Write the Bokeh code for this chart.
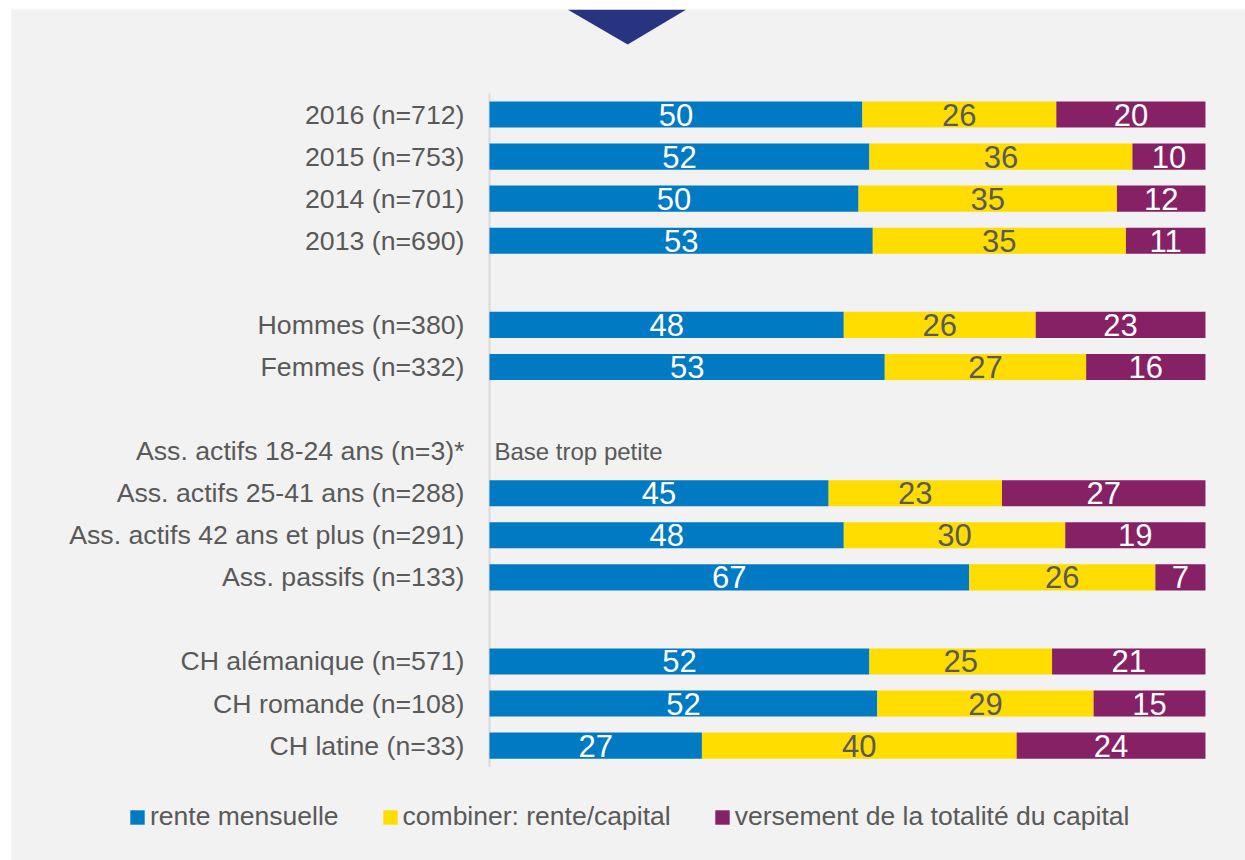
from bokeh.plotting import figure
from bokeh.models import ColumnDataSource, Range1d, Legend, LegendItem
from bokeh.core.properties import value
from bokeh.embed import file_html
from bokeh.resources import INLINE

# ---------------- data ----------------
categories = [
    "2016 (n=712)", "2015 (n=753)", "2014 (n=701)", "2013 (n=690)", "",
    "Hommes (n=380)", "Femmes (n=332)", "",
    "Ass. actifs 18-24 ans (n=3)*", "Ass. actifs 25-41 ans (n=288)",
    "Ass. actifs 42 ans et plus (n=291)", "Ass. passifs (n=133)", "",
    "CH alémanique (n=571)", "CH romande (n=108)", "CH latine (n=33)",
]
rente = [50, 52, 50, 53, None, 48, 53, None, None, 45, 48, 67, None, 52, 52, 27]
combiner = [26, 36, 35, 35, None, 26, 27, None, None, 23, 30, 26, None, 25, 29, 40]
versement = [20, 10, 12, 11, None, 23, 16, None, None, 27, 19, 7, None, 21, 15, 24]
series_names = ["rente mensuelle", "combiner: rente/capital",
                "versement de la totalité du capital"]
note_category = "Ass. actifs 18-24 ans (n=3)*"
note_text = "Base trop petite"

# ---------------- style ----------------
FONT = "Liberation Sans"
GREY_TXT = "#595959"
BG = "#F2F2F2"
COLORS = ["#007AC2", "#FFDD00", "#862165"]
LABEL_COLORS = ["#FFFFFF", GREY_TXT, "#FFFFFF"]

# ---------------- build sources ----------------
ys, a, b, c = [], [], [], []
seg_x, seg_y, seg_t, seg_c = [], [], [], []
for i, (r, m, v) in enumerate(zip(rente, combiner, versement)):
    if r is None:
        continue
    tot = r + m + v
    fr = [r / tot, m / tot, v / tot]
    ys.append(i)
    a.append(fr[0]); b.append(fr[1]); c.append(fr[2])
    left = 0.0
    for k, (f, val) in enumerate(zip(fr, (r, m, v))):
        seg_x.append(left + f / 2)
        seg_y.append(i)
        seg_t.append(str(val))
        seg_c.append(LABEL_COLORS[k])
        left += f

src = ColumnDataSource(dict(y=ys, a=a, b=b, c=c))
lab_src = ColumnDataSource(dict(x=seg_x, y=seg_y, t=seg_t, col=seg_c))
cat_idx = [i for i, cat in enumerate(categories) if cat]
cat_src = ColumnDataSource(dict(y=cat_idx, t=[categories[i] for i in cat_idx],
                                x=[0] * len(cat_idx)))

n = len(categories)
p = figure(
    width=1234, height=851,
    x_range=Range1d(-0.6676, 1.0559), y_range=Range1d(17.73, -2.496),
    x_axis_location=None, y_axis_location=None,
    output_backend="svg", toolbar_location=None,
    min_border_left=0, min_border_right=0, min_border_top=0, min_border_bottom=0,
    background_fill_color=BG, border_fill_color=BG,
    outline_line_color=None,
)
p.margin = (9, 0, 0, 11)
p.grid.visible = False

# axis line (spanning the categories only)
p.segment(x0=[0], y0=[-0.5], x1=[0], y1=[n - 0.5], line_color="#D9D9D9", line_width=2)

rs = p.hbar_stack(["a", "b", "c"], y="y", height=0.62, source=src,
                  color=COLORS, line_color=None)

p.text(x="x", y="y", text="t", source=lab_src, text_color="col",
       text_align="center", text_baseline="middle",
       text_font=value(FONT), text_font_size="31px")

# category labels
p.text(x="x", y="y", text="t", source=cat_src, x_offset=-25,
       text_align="right", text_baseline="middle", text_color=GREY_TXT,
       text_font=value(FONT), text_font_size="26.7px")

note_i = categories.index(note_category)
p.text(x=[0], y=[note_i], text=[note_text], x_offset=5,
       text_align="left", text_baseline="middle", text_color=GREY_TXT,
       text_font=value(FONT), text_font_size="24px")

# decorative navy triangle at top
tri_x = [0.109, 0.275, 0.193]
tri_y = [-2.496, -2.496, -1.664]
p.patch(tri_x, tri_y, color="#283480", line_color=None)

legend = Legend(
    items=[LegendItem(label=nm, renderers=[r]) for nm, r in zip(series_names, rs)],
    orientation="horizontal", location=(117, 28),
    glyph_width=18, glyph_height=18, label_standoff=4, spacing=42,
    padding=0, margin=0, border_line_color=None, background_fill_alpha=0,
    label_text_font=FONT, label_text_font_size="26.5px", label_text_color=GREY_TXT,
)
p.add_layout(legend, "center")

open("out.html", "w").write(file_html(p, INLINE))
